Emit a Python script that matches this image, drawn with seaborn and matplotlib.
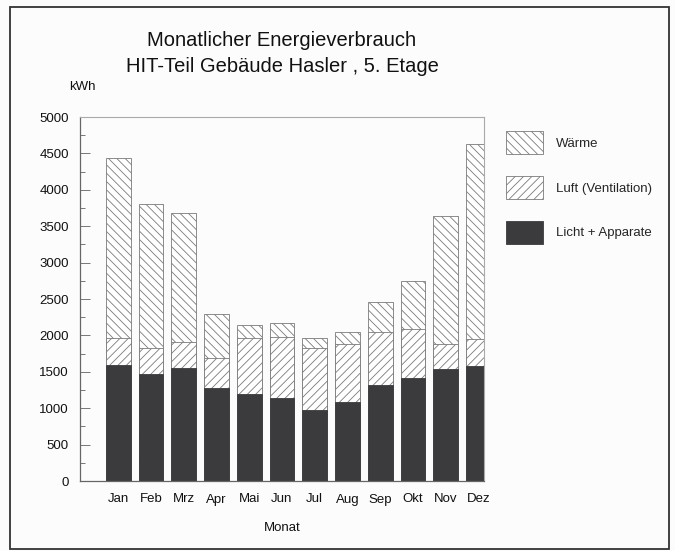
import matplotlib
matplotlib.use('Agg')
import matplotlib.pyplot as plt
import matplotlib.patches as mpatches
from matplotlib.ticker import MultipleLocator
import seaborn as sns
import numpy as np
import pandas as pd

# Monthly energy data (kWh)
months = ['Jan', 'Feb', 'Mrz', 'Apr', 'Mai', 'Jun', 'Jul', 'Aug', 'Sep', 'Okt', 'Nov', 'Dez']
licht = [1600, 1470, 1550, 1275, 1195, 1140, 975, 1085, 1320, 1415, 1540, 1580]
luft = [360, 355, 360, 415, 770, 835, 855, 795, 730, 675, 345, 370]
waerme = [2470, 1980, 1770, 605, 180, 195, 135, 165, 410, 660, 1755, 2680]

legend_labels = ['Wärme', 'Luft (Ventilation)', 'Licht + Apparate']

sns.set_style('white')
plt.rcParams['font.family'] = ['Liberation Sans', 'DejaVu Sans']
plt.rcParams['hatch.linewidth'] = 0.6
plt.rcParams['hatch.color'] = '#7a7a7a'

df = pd.DataFrame({'Monat': months, 'Licht': licht, 'Luft': luft, 'Waerme': waerme})
df['LichtLuft'] = df['Licht'] + df['Luft']
df['Total'] = df['LichtLuft'] + df['Waerme']

W, H = 675, 551
bg = '#fcfcfc'
fig = plt.figure(figsize=(W / 100, H / 100), dpi=100, facecolor=bg)
ax = fig.add_axes([80 / W, 1 - 481 / H, (484 - 80) / W, (481 - 117) / H], facecolor=bg)

hatch_edge = '#7a7a7a'
dark = '#3b3b3e'
bw = 0.76

# stacked by overlaying cumulative totals
sns.barplot(data=df, x='Monat', y='Total', color='white', saturation=1, width=bw,
            edgecolor=hatch_edge, linewidth=0.6, hatch='\\\\\\\\', errorbar=None, ax=ax)
sns.barplot(data=df, x='Monat', y='LichtLuft', color='white', saturation=1, width=bw,
            edgecolor=hatch_edge, linewidth=0.6, hatch='////', errorbar=None, ax=ax)
sns.barplot(data=df, x='Monat', y='Licht', color=dark, saturation=1, width=bw,
            edgecolor=dark, linewidth=0.6, errorbar=None, ax=ax)

ax.set_xlim(-1.17, 11.17)
ax.set_ylim(0, 5000)
ax.yaxis.set_major_locator(MultipleLocator(500))
ax.yaxis.set_minor_locator(MultipleLocator(250))
ax.tick_params(axis='y', which='major', direction='in', length=7, width=0.7,
               color='#777777', pad=8, labelsize=9.5, labelcolor='#111111')
ax.tick_params(axis='y', which='minor', direction='in', length=3.5, width=0.7, color='#777777')
ax.tick_params(axis='x', length=0, pad=9, labelsize=9.5, labelcolor='#111111')
ax.tick_params(left=True, which='both')

for side in ['left', 'bottom']:
    ax.spines[side].set_color('#666666')
    ax.spines[side].set_linewidth(0.9)
for side in ['top', 'right']:
    ax.spines[side].set_color('#aaaaaa')
    ax.spines[side].set_linewidth(0.8)

ax.set_xlabel('Monat', fontsize=9.5, labelpad=12, color='#111111')
ax.set_ylabel('')

# titles and unit
cx = (80 + 484) / 2 / W
fig.text(cx, 1 - 40 / H, 'Monatlicher Energieverbrauch', ha='center', va='center',
         fontsize=14.5, color='#111111')
fig.text(cx, 1 - 67 / H, 'HIT-Teil Gebäude Hasler , 5. Etage', ha='center', va='center',
         fontsize=14.5, color='#111111')
fig.text(82 / W, 1 - 87 / H, 'kWh', ha='center', va='center', fontsize=9.5, color='#111111')

# legend
handles = [
    mpatches.Patch(facecolor='white', edgecolor=hatch_edge, linewidth=0.6, hatch='\\\\\\\\'),
    mpatches.Patch(facecolor='white', edgecolor=hatch_edge, linewidth=0.6, hatch='////'),
    mpatches.Patch(facecolor=dark, edgecolor=dark, linewidth=0.6),
]
fs = 9.5
fpx = fs * 100 / 72
fig.legend(handles, legend_labels, loc='upper left',
           bbox_to_anchor=(506 / W, 1 - 131 / H), bbox_transform=fig.transFigure,
           frameon=False, fontsize=fs, borderpad=0, borderaxespad=0,
           handlelength=37 / fpx, handleheight=2.3,
           labelspacing=22 / fpx, handletextpad=13 / fpx)

# outer frame
fig.add_artist(mpatches.Rectangle((10 / W, 1 - 549 / H), (669 - 10) / W, (549 - 7) / H,
                                  transform=fig.transFigure, fill=False,
                                  edgecolor='#333333', linewidth=1.3))

fig.savefig('out.png', dpi=100, facecolor=bg)
